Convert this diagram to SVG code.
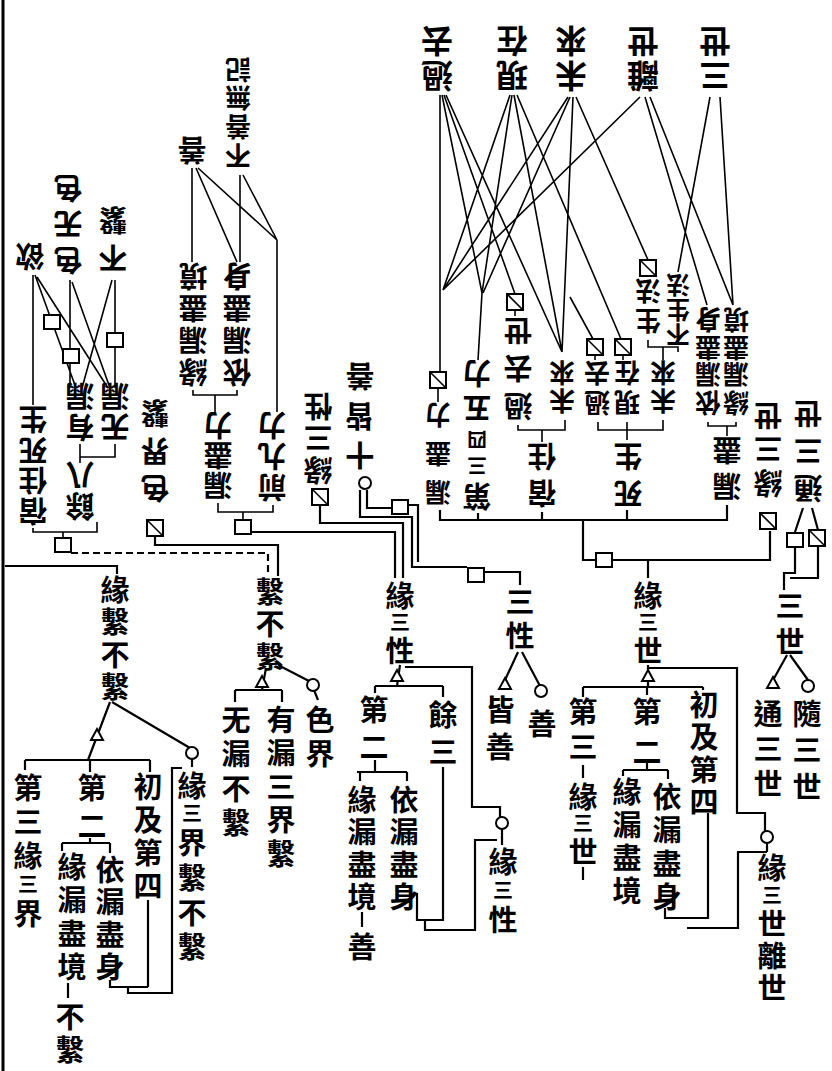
<svg xmlns="http://www.w3.org/2000/svg" width="832" height="1071" viewBox="0 0 832 1071">
<style>
text{font-family:"Noto Sans CJK TC","Noto Sans CJK SC","Noto Sans CJK JP",sans-serif;font-weight:700;fill:#000;text-anchor:middle;dominant-baseline:central}
.m{font-size:29px}
.n{font-size:26px}
.t{font-size:24px}
.l{font-size:32px}
.s{font-size:20px}
.ln{stroke:#000;stroke-width:2.2;fill:none}
.th{stroke:#000;stroke-width:1.6;fill:none}
.ds{stroke-dasharray:7 4}
.bx{fill:#fff;stroke:#000;stroke-width:2}
</style>
<defs>
<g id="tri"><path d="M0,-6 L6,5 L-6,5 Z" class="bx"/></g>
<g id="cir"><circle r="6" class="bx"/></g>
<g id="bq"><rect x="-8" y="-8" width="16" height="16" class="bx"/><path d="M-8,-8 L8,8" stroke="#000" stroke-width="1.6"/></g>
<g id="bp"><rect x="-8" y="-7" width="16" height="14" class="bx"/></g>
</defs>
<rect width="832" height="1071" fill="#fff"/>
<g id="connectors">
<path class="ln" d="M3,0 V1071" style="stroke-width:3"/>
<path class="ln" d="M5,566 H117 V574 M110,702 L88,760 M112,702 L190,748 M192,759 V767 M182,768 H172 V993 H128 V987 M25,760 H150 M25,760 V770 M90,760 V772 M150,760 V772 M90,838 V843 M62,843 H110 M62,843 V851 M110,843 V853 M68,983 V998 M110,980 V987 H148 M148,900 V987"/>
<path class="ln" d="M155,537 V545 H278 V576 M266,668 L262,690 M235,690 H282 M235,690 V702 M282,690 V702 M278,665 L309,681 M314,690 L318,700"/>
<path class="ln ds" d="M71,553 H268 V572"/>
<path class="ln" d="M320,505 V523 H403 V578 M251,532 H395 V578 M400,665 L397,686 M375,686 H443 M375,686 V693 M443,686 V697 M405,667 H472 V807 H500 V817 M502,829 V845 M375,760 V772 M357,772 H407 M360,772 V781 M407,772 V781 M362,912 V927 M417,893 V920 H443 V767 M425,920 V930 H475 V840 H497"/>
<path class="ln" d="M360,490 V517 H412 V567 H467 M485,572 H520 V585 M367,490 V508 H392 M408,505 H418 V562 M518,652 L505,680 M522,652 L540,686"/>
<path class="ln" d="M440,510 V520 H727 V505 M478,513 V520 M542,512 V520 M627,510 V520 M583,520 V560 H770 V531 M648,560 V578 M648,665 V687 M583,687 H703 M583,687 V697 M647,687 V695 M703,687 V690 M648,668 H737 V813 H765 V831 M767,843 V852 M647,762 V770 M623,770 H668 M623,770 V776 M668,770 V779 M583,765 V778 M583,867 V880 M708,813 V918 H665 V908 M767,852 H738 V928 H687"/>
<path class="ln" d="M803,508 L795,532 M812,508 L818,530 M795,547 V573 H784 V590 M818,545 V578 H790 M787,655 L772,682 M790,655 L808,680"/>
<path class="th" d="M33,275 V405 M35,275 L76,388 M37,277 L108,388 M70,280 V388 M72,282 L110,388 M115,280 V388 M112,280 L82,388 M80,444 V457 H115 V444 M80,457 V463 M33,528 V532 H97 V522 M63,532 V537"/>
<path class="th" d="M192,168 V262 M196,168 L237,262 M198,168 L277,240 M240,175 V262 M243,175 L277,240 M277,240 V412 M193,390 V395 H237 V390 M215,395 V412 M218,503 V512 H273 V505 M243,512 V519"/>
<path class="th" d="M440,95 V372 M438,388 V402 M442,95 L482,293 M444,95 L515,294 M515,310 V316 M446,95 L562,352 M510,95 L443,290 M512,95 L482,293 M514,95 L562,352 M517,95 L621,339 M568,97 L443,290 M570,97 L483,293 M573,97 L562,352 M576,97 L648,260 M570,297 L593,339 M640,97 L443,290 M645,97 L707,305 M650,97 L733,305 M710,97 L678,272 M720,97 L733,305 M482,293 L478,360 M595,355 V360 M623,355 V360 M518,425 V430 H565 V420 M542,430 V442 M598,422 V430 H663 V420 M627,422 V440 M648,340 V347 H678 V352 M663,347 V360 M708,422 V426 H736 V422 M727,426 V436"/>
<use href="#tri" x="97" y="735"/><use href="#cir" x="192" y="753"/>
<use href="#tri" x="262" y="682"/><use href="#cir" x="313" y="685"/>
<use href="#tri" x="397" y="676"/><use href="#cir" x="502" y="823"/>
<use href="#tri" x="505" y="684"/><use href="#cir" x="541" y="691"/>
<use href="#tri" x="648" y="676"/><use href="#cir" x="767" y="837"/>
<use href="#tri" x="773" y="683"/><use href="#cir" x="808" y="686"/>
<use href="#bp" x="63" y="545"/><use href="#bq" x="155" y="528"/><use href="#bp" x="243" y="527"/><use href="#bq" x="320" y="497"/>
<use href="#cir" x="365" y="483"/><use href="#bp" x="400" y="507"/><use href="#bp" x="476" y="575"/><use href="#bp" x="604" y="560"/>
<use href="#bq" x="768" y="521"/><use href="#bp" x="795" y="540"/><use href="#bq" x="817" y="538"/>
<use href="#bp" x="52" y="322"/><use href="#bp" x="71" y="356"/><use href="#bp" x="115" y="340"/>
<use href="#bq" x="438" y="380"/><use href="#bq" x="515" y="302"/><use href="#bq" x="595" y="347"/><use href="#bq" x="623" y="347"/><use href="#bq" x="648" y="268"/>
</g>
<g id="n1"><text class="m"><tspan x="115" y="588">緣</tspan><tspan x="115" y="620">繫</tspan><tspan x="115" y="653">不</tspan><tspan x="115" y="685">繫</tspan></text></g>
<g id="n2"><text class="m"><tspan x="270" y="590">繫</tspan><tspan x="270" y="622">不</tspan><tspan x="270" y="655">繫</tspan></text></g>
<g id="n3"><text class="m"><tspan x="400" y="594">緣</tspan><tspan x="400" y="621" class="s">三</tspan><tspan x="400" y="649">性</tspan></text></g>
<g id="n4"><text class="m"><tspan x="520" y="600">三</tspan><tspan x="520" y="634">性</tspan></text></g>
<g id="n5"><text class="m"><tspan x="648" y="594">緣</tspan><tspan x="648" y="621" class="s">三</tspan><tspan x="648" y="649">世</tspan></text></g>
<g id="n6"><text class="m"><tspan x="790" y="604">三</tspan><tspan x="790" y="640">世</tspan></text></g>
<g id="c1"><text class="m"><tspan x="28" y="786">第</tspan><tspan x="28" y="820">三</tspan><tspan x="28" y="854">緣</tspan><tspan x="28" y="883" class="s">三</tspan><tspan x="28" y="912">界</tspan></text></g>
<g id="c2"><text class="m"><tspan x="92" y="786">第</tspan><tspan x="92" y="824">二</tspan></text></g>
<g id="c3"><text class="m"><tspan x="72" y="865">緣</tspan><tspan x="72" y="898">漏</tspan><tspan x="72" y="932">盡</tspan><tspan x="72" y="965">境</tspan><tspan x="70" y="1015">不</tspan><tspan x="70" y="1048">繫</tspan></text></g>
<g id="c5"><text class="m"><tspan x="110" y="868">依</tspan><tspan x="110" y="900">漏</tspan><tspan x="110" y="933">盡</tspan><tspan x="110" y="965">身</tspan></text></g>
<g id="c6"><text class="m"><tspan x="148" y="785">初</tspan><tspan x="148" y="818">及</tspan><tspan x="148" y="851">第</tspan><tspan x="148" y="884">四</tspan></text></g>
<g id="c7"><text class="m"><tspan x="192" y="784">緣</tspan><tspan x="192" y="812" class="s">三</tspan><tspan x="192" y="841">界</tspan><tspan x="192" y="876">繫</tspan><tspan x="192" y="911">不</tspan><tspan x="192" y="945">繫</tspan></text></g>
<g id="d1"><text class="m"><tspan x="236" y="718">无</tspan><tspan x="236" y="752">漏</tspan><tspan x="236" y="787">不</tspan><tspan x="236" y="821">繫</tspan></text></g>
<g id="d2"><text class="m"><tspan x="281" y="718">有</tspan><tspan x="281" y="751">漏</tspan><tspan x="281" y="785">三</tspan><tspan x="281" y="818">界</tspan><tspan x="281" y="852">繫</tspan></text></g>
<g id="d3"><text class="m"><tspan x="320" y="718">色</tspan><tspan x="320" y="752">界</tspan></text></g>
<g id="e1"><text class="m"><tspan x="374" y="708">第</tspan><tspan x="374" y="745">二</tspan></text></g>
<g id="e2"><text class="m"><tspan x="362" y="798">緣</tspan><tspan x="362" y="830">漏</tspan><tspan x="362" y="863">盡</tspan><tspan x="362" y="895">境</tspan><tspan x="362" y="945">善</tspan></text></g>
<g id="e3"><text class="m"><tspan x="404" y="798">依</tspan><tspan x="404" y="830">漏</tspan><tspan x="404" y="863">盡</tspan><tspan x="404" y="895">身</tspan></text></g>
<g id="e4"><text class="m"><tspan x="443" y="713">餘</tspan><tspan x="443" y="750">三</tspan></text></g>
<g id="e5"><text class="m"><tspan x="503" y="860">緣</tspan><tspan x="503" y="889" class="s">三</tspan><tspan x="503" y="918">性</tspan></text></g>
<g id="f1"><text class="m"><tspan x="500" y="708">皆</tspan><tspan x="500" y="745">善</tspan></text></g>
<g id="f2"><text class="m" x="542" y="722">善</text></g>
<g id="g1"><text class="m"><tspan x="583" y="710">第</tspan><tspan x="583" y="745">三</tspan><tspan x="583" y="795">緣</tspan><tspan x="583" y="822" class="s">三</tspan><tspan x="583" y="850">世</tspan></text></g>
<g id="g2"><text class="m"><tspan x="647" y="710">第</tspan><tspan x="647" y="750">二</tspan></text></g>
<g id="g3"><text class="m"><tspan x="627" y="790">緣</tspan><tspan x="627" y="823">漏</tspan><tspan x="627" y="856">盡</tspan><tspan x="627" y="889">境</tspan></text></g>
<g id="g4"><text class="m"><tspan x="667" y="795">依</tspan><tspan x="667" y="828">漏</tspan><tspan x="667" y="862">盡</tspan><tspan x="667" y="895">身</tspan></text></g>
<g id="g5"><text class="m"><tspan x="704" y="703">初</tspan><tspan x="704" y="735">及</tspan><tspan x="704" y="768">第</tspan><tspan x="704" y="800">四</tspan></text></g>
<g id="g6"><text class="m"><tspan x="772" y="866">緣</tspan><tspan x="772" y="894" class="s">三</tspan><tspan x="772" y="922">世</tspan><tspan x="772" y="954">離</tspan><tspan x="772" y="986">世</tspan></text></g>
<g id="h1"><text class="m"><tspan x="768" y="712">通</tspan><tspan x="768" y="747">三</tspan><tspan x="768" y="782">世</tspan></text></g>
<g id="h2"><text class="m"><tspan x="807" y="712">隨</tspan><tspan x="807" y="748">三</tspan><tspan x="807" y="785">世</tspan></text></g>
<g id="ul1"><text class="m" x="30" y="258" transform="rotate(180 30 258)">欲</text></g>
<g id="ul2"><text class="m" transform="rotate(180 68 226)"><tspan x="68" y="190">色</tspan><tspan x="68" y="226">无</tspan><tspan x="68" y="262">色</tspan></text></g>
<g id="ul3"><text class="m" transform="rotate(180 113 241)"><tspan x="113" y="222">不</tspan><tspan x="113" y="260">繫</tspan></text></g>
<g id="ul4"><text class="m" transform="rotate(180 33 467)"><tspan x="33" y="421">宿</tspan><tspan x="33" y="452">住</tspan><tspan x="33" y="482">死</tspan><tspan x="33" y="513">生</tspan></text></g>
<g id="ul5"><text class="m" transform="rotate(180 80 413.5)"><tspan x="80" y="398">有</tspan><tspan x="80" y="429">漏</tspan></text></g>
<g id="ul6"><text class="m" transform="rotate(180 115 413.5)"><tspan x="115" y="398">无</tspan><tspan x="115" y="429">漏</tspan></text></g>
<g id="ul7"><text class="m" transform="rotate(180 80 492.5)"><tspan x="80" y="477">餘</tspan><tspan x="80" y="508">八</tspan></text></g>
<g id="ul8"><text class="m" transform="rotate(180 155 452.5)"><tspan x="155" y="415">色</tspan><tspan x="155" y="452.5">界</tspan><tspan x="155" y="490">繫</tspan></text></g>
<g id="ul9"><text class="m" x="192" y="152" transform="rotate(180 192 152)">善</text></g>
<g id="ul10"><text class="n" transform="rotate(180 238 115)"><tspan x="238" y="72">不</tspan><tspan x="238" y="101">善</tspan><tspan x="238" y="130">無</tspan><tspan x="238" y="158">記</tspan></text></g>
<g id="ul11"><text class="m" transform="rotate(180 193 326)"><tspan x="193" y="278">緣</tspan><tspan x="193" y="310">漏</tspan><tspan x="193" y="342">盡</tspan><tspan x="193" y="374">境</tspan></text></g>
<g id="ul12"><text class="m" transform="rotate(180 237 326)"><tspan x="237" y="278">依</tspan><tspan x="237" y="310">漏</tspan><tspan x="237" y="342">盡</tspan><tspan x="237" y="374">身</tspan></text></g>
<g id="ul13"><text class="m" transform="rotate(180 218 457)"><tspan x="218" y="427">漏</tspan><tspan x="218" y="457">盡</tspan><tspan x="218" y="487">力</tspan></text></g>
<g id="ul14"><text class="m" transform="rotate(180 272 458)"><tspan x="272" y="427">前</tspan><tspan x="272" y="458">九</tspan><tspan x="272" y="489">力</tspan></text></g>
<g id="ul15"><text class="m" transform="rotate(180 318 440)"><tspan x="318" y="408">緣</tspan><tspan x="318" y="440">三</tspan><tspan x="318" y="472">性</tspan></text></g>
<g id="ul16"><text class="m" transform="rotate(180 360 417.5)"><tspan x="360" y="378">十</tspan><tspan x="360" y="417.5">皆</tspan><tspan x="360" y="457">善</tspan></text></g>
<g id="ur1"><text class="l" transform="rotate(180 437 60.5)"><tspan x="437" y="43">過</tspan><tspan x="437" y="78">去</tspan></text></g>
<g id="ur2"><text class="l" transform="rotate(180 512 60.5)"><tspan x="512" y="43">現</tspan><tspan x="512" y="78">在</tspan></text></g>
<g id="ur3"><text class="l" transform="rotate(180 571 60.5)"><tspan x="571" y="43">未</tspan><tspan x="571" y="78">來</tspan></text></g>
<g id="ur4"><text class="l" transform="rotate(180 643 60.5)"><tspan x="643" y="43">離</tspan><tspan x="643" y="78">世</tspan></text></g>
<g id="ur5"><text class="l" transform="rotate(180 715 60.5)"><tspan x="715" y="43">三</tspan><tspan x="715" y="78">世</tspan></text></g>
<g id="r1"><text class="n" transform="rotate(180 438 456)"><tspan x="438" y="417">漏</tspan><tspan x="438" y="456">盡</tspan><tspan x="438" y="495">力</tspan></text></g>
<g id="r2"><text class="m" transform="rotate(180 477 436.5)"><tspan x="477" y="375">第</tspan><tspan x="477" y="406" class="s">三</tspan><tspan x="477" y="432" class="s">四</tspan><tspan x="477" y="463">五</tspan><tspan x="477" y="498">力</tspan></text></g>
<g id="r3"><text class="m" transform="rotate(180 518 370)"><tspan x="518" y="332">過</tspan><tspan x="518" y="370">去</tspan><tspan x="518" y="408">世</tspan></text></g>
<g id="r4"><text class="n" transform="rotate(180 562 389)"><tspan x="562" y="375">未</tspan><tspan x="562" y="403">來</tspan></text></g>
<g id="r5"><text class="m" transform="rotate(180 542 476.5)"><tspan x="542" y="458">宿</tspan><tspan x="542" y="495">住</tspan></text></g>
<g id="r6"><text class="n" transform="rotate(180 597 390)"><tspan x="597" y="375">過</tspan><tspan x="597" y="405">去</tspan></text></g>
<g id="r7"><text class="n" transform="rotate(180 627 390)"><tspan x="627" y="375">現</tspan><tspan x="627" y="405">在</tspan></text></g>
<g id="r8"><text class="n" transform="rotate(180 663 389)"><tspan x="663" y="375">未</tspan><tspan x="663" y="403">來</tspan></text></g>
<g id="r9"><text class="m" transform="rotate(180 628 476.5)"><tspan x="628" y="458">死</tspan><tspan x="628" y="495">生</tspan></text></g>
<g id="r10"><text class="n" transform="rotate(180 648 308)"><tspan x="648" y="293">生</tspan><tspan x="648" y="323">法</tspan></text></g>
<g id="r11"><text class="t" transform="rotate(180 678 312)"><tspan x="678" y="287">不</tspan><tspan x="678" y="312">生</tspan><tspan x="678" y="337">法</tspan></text></g>
<g id="r12"><text class="n" transform="rotate(180 708 363.5)"><tspan x="708" y="322">依</tspan><tspan x="708" y="350">漏</tspan><tspan x="708" y="377">盡</tspan><tspan x="708" y="405">身</tspan></text></g>
<g id="r13"><text class="n" transform="rotate(180 736 363.5)"><tspan x="736" y="322">緣</tspan><tspan x="736" y="350">漏</tspan><tspan x="736" y="377">盡</tspan><tspan x="736" y="405">境</tspan></text></g>
<g id="r14"><text class="m" transform="rotate(180 727 470)"><tspan x="727" y="452">漏</tspan><tspan x="727" y="488">盡</tspan></text></g>
<g id="r15"><text class="m" transform="rotate(180 808 452.5)"><tspan x="808" y="415">通</tspan><tspan x="808" y="452.5">三</tspan><tspan x="808" y="490">世</tspan></text></g>
<g id="r16"><text class="m" transform="rotate(180 768 451)"><tspan x="768" y="417">緣</tspan><tspan x="768" y="451">三</tspan><tspan x="768" y="485">世</tspan></text></g>
</svg>
